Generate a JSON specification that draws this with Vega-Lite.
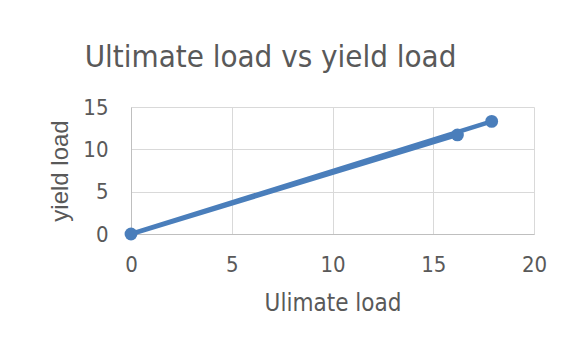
{
  "$schema": "https://vega.github.io/schema/vega-lite/v6.json",
  "width": 403,
  "height": 127,
  "autosize": "none",
  "padding": {"left": 131, "top": 107, "right": 30, "bottom": 116},
  "background": "white",
  "title": {
    "text": "Ultimate load vs yield load",
    "font": "DejaVu Sans Condensed, Roboto, sans-serif",
    "fontSize": 31,
    "fontWeight": "normal",
    "color": "#595959",
    "anchor": "middle",
    "frame": "group",
    "baseline": "alphabetic",
    "dx": -62,
    "offset": -2
  },
  "data": {
    "values": [
      {"seq": 1, "ultimate": 16.2, "yield": 11.7},
      {"seq": 2, "ultimate": 0, "yield": 0},
      {"seq": 3, "ultimate": 17.9, "yield": 13.3}
    ]
  },
  "encoding": {
    "x": {
      "field": "ultimate",
      "type": "quantitative",
      "scale": {"domain": [0, 20], "nice": false},
      "axis": {
        "title": "Ulimate load",
        "values": [0, 5, 10, 15, 20],
        "labelFlush": false,
        "labelPadding": 20,
        "titlePadding": 16,
        "titleFontSize": 24
      }
    },
    "y": {
      "field": "yield",
      "type": "quantitative",
      "scale": {"domain": [0, 15], "nice": false},
      "axis": {
        "title": "yield load",
        "values": [0, 5, 10, 15],
        "labelPadding": 23,
        "titlePadding": 10,
        "titleFont": "Liberation Sans",
        "titleFontSize": 24
      }
    },
    "order": {"field": "seq"}
  },
  "layer": [
    {"mark": {"type": "line", "color": "#4a7ebb", "strokeWidth": 4.5}},
    {"mark": {"type": "point", "filled": true, "opacity": 1, "color": "#4a7ebb", "size": 165}}
  ],
  "config": {
    "view": {"stroke": null},
    "axis": {
      "labelFont": "DejaVu Sans Condensed, Roboto, sans-serif",
      "labelFontSize": 22,
      "labelColor": "#595959",
      "titleFont": "DejaVu Sans Condensed, Roboto, sans-serif",
      "titleColor": "#595959",
      "titleFontWeight": "normal",
      "gridColor": "#d9d9d9",
      "gridWidth": 1,
      "domainColor": "#bfbfbf",
      "ticks": false
    }
  }
}
